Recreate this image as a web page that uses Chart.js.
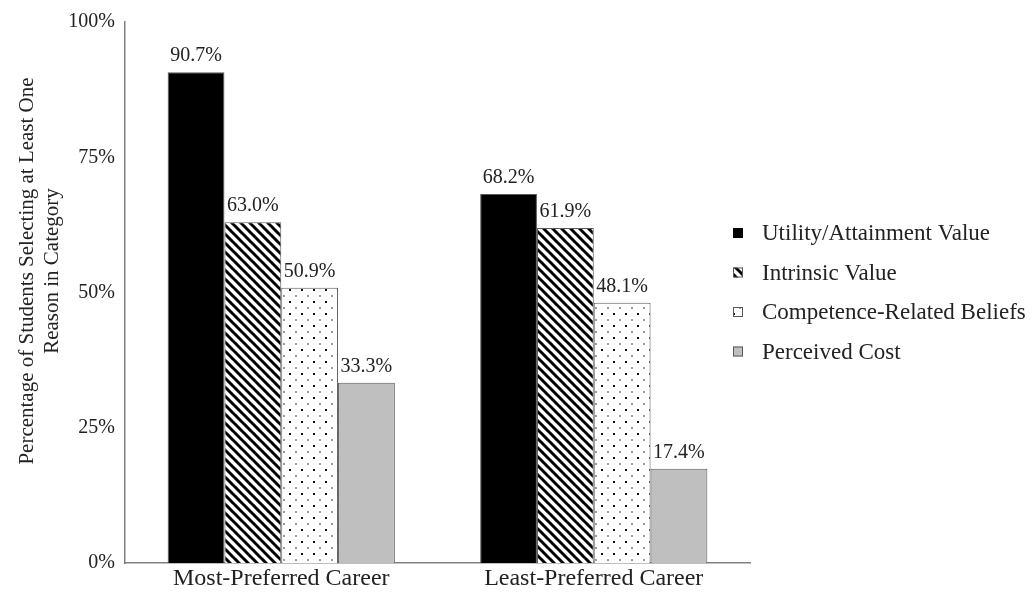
<!DOCTYPE html>
<html>
<head>
<meta charset="utf-8">
<script src="https://cdn.jsdelivr.net/npm/chart.js@4/dist/chart.umd.min.js"></script>
<style>
  body { margin: 0; background: #fff; }
  #wrap { width: 1033px; height: 592px; }
</style>
</head>
<body>
<div id="wrap"><canvas id="container" width="1033" height="592"></canvas></div>
<script>
var categories = ["Most-Preferred Career", "Least-Preferred Career"]
var seriesNames = ["Utility/Attainment Value", "Intrinsic Value", "Competence-Related Beliefs", "Perceived Cost"]
var utilityValues = [90.7, 68.2]
var intrinsicValues = [63.0, 61.9]
var competenceValues = [50.9, 48.1]
var costValues = [33.3, 17.4]
var yTicks = [0, 25, 50, 75, 100]
var yTitle = ["Percentage of Students Selecting at Least One", "Reason in Category"]

var FONT = "'Liberation Serif', 'Times New Roman', serif"
var TEXT = "#222"

function makeHatch() {
  var s = 9
  var c = document.createElement("canvas")
  c.width = s; c.height = s
  var g = c.getContext("2d")
  g.fillStyle = "#fff"
  g.fillRect(0, 0, s, s)
  g.strokeStyle = "#000"
  g.lineWidth = 3
  for (var k = -1; k <= 1; k++) {
    g.beginPath()
    g.moveTo(k * s - 1, -1)
    g.lineTo(k * s + s + 1, s + 1)
    g.stroke()
  }
  return g.createPattern(c, "repeat")
}

function makeDots() {
  var s = 12
  var c = document.createElement("canvas")
  c.width = s; c.height = s
  var g = c.getContext("2d")
  g.fillStyle = "#fff"
  g.fillRect(0, 0, s, s)
  g.fillStyle = "#111"
  g.fillRect(1, 1, 2, 2)
  g.fillStyle = "#9a9a9a"
  g.fillRect(7, 7, 2, 2)
  return g.createPattern(c, "repeat")
}

var fills = ["#000000", makeHatch(), makeDots(), "#bfbfbf"]
var seriesValues = [utilityValues, intrinsicValues, competenceValues, costValues]

function buildDatasets() {
  var sets = []
  for (var i = 0; i < seriesNames.length; i++) {
    sets.push({
      label: seriesNames[i],
      data: seriesValues[i],
      backgroundColor: fills[i],
      borderColor: "#595959",
      borderWidth: 1,
      categoryPercentage: 0.727,
      barPercentage: 1
    })
  }
  return sets
}

// value labels above each bar
var valueLabels = {
  id: "valueLabels",
  afterDatasetsDraw: function(chart) {
    var ctx = chart.ctx
    ctx.save()
    ctx.font = "20px " + FONT
    ctx.fillStyle = TEXT
    ctx.textAlign = "center"
    ctx.textBaseline = "alphabetic"
    chart.data.datasets.forEach(function(ds, i) {
      var meta = chart.getDatasetMeta(i)
      meta.data.forEach(function(bar, j) {
        ctx.fillText(ds.data[j].toFixed(1) + "%", bar.x, bar.y - 11)
      })
    })
    ctx.restore()
  }
}

// rotated y title, legend on the right
var extras = {
  id: "extras",
  afterDraw: function(chart) {
    var ctx = chart.ctx
    ctx.save()
    ctx.fillStyle = TEXT
    ctx.font = "21px " + FONT
    ctx.textAlign = "center"
    ctx.textBaseline = "middle"
    ctx.translate(27, 271)
    ctx.rotate(-Math.PI / 2)
    ctx.fillText(yTitle[0], 0, 0)
    ctx.fillText(yTitle[1], 0, 25)
    ctx.restore()

    ctx.save()
    ctx.font = "23px " + FONT
    ctx.textBaseline = "middle"
    ctx.textAlign = "left"
    chart.data.datasets.forEach(function(ds, i) {
      var y = 233 + i * 39.5
      ctx.fillStyle = ds.backgroundColor
      ctx.fillRect(733, y - 5, 10, 10)
      if (i > 0) {
        ctx.strokeStyle = ds.borderColor
        ctx.lineWidth = 1
        ctx.strokeRect(733.5, y - 4.5, 9, 9)
      }
      ctx.fillStyle = TEXT
      ctx.fillText(ds.label, 762, y + 1)
    })
    ctx.restore()
  }
}

function renderChart() {
  var chart = new Chart(document.getElementById("container"), {
    type: "bar",
    data: {
      labels: categories,
      datasets: buildDatasets()
    },
    options: {
      responsive: false,
      animation: false,
      layout: { padding: { top: 10, right: 283, bottom: 0, left: 0 } },
      plugins: {
        legend: { display: false },
        tooltip: { enabled: false }
      },
      scales: {
        x: {
          grid: { display: false, drawTicks: false },
          border: { display: true, color: "#808080", width: 1.5 },
          ticks: { color: TEXT, font: { family: FONT, size: 24 }, padding: 1 },
          afterFit: function(scale) { scale.height = 29 }
        },
        y: {
          min: 0,
          max: 100,
          afterBuildTicks: function(scale) {
            scale.ticks = yTicks.map(function(v) { return { value: v } })
          },
          grid: { display: false, drawTicks: false },
          border: { display: true, color: "#808080", width: 1.5 },
          ticks: {
            color: TEXT,
            font: { family: FONT, size: 20 },
            padding: 10,
            callback: function(v) { return v + "%" }
          },
          afterFit: function(scale) { scale.width = 125 }
        }
      }
    },
    plugins: [valueLabels, extras]
  })
}

renderChart()
</script>
</body>
</html>
